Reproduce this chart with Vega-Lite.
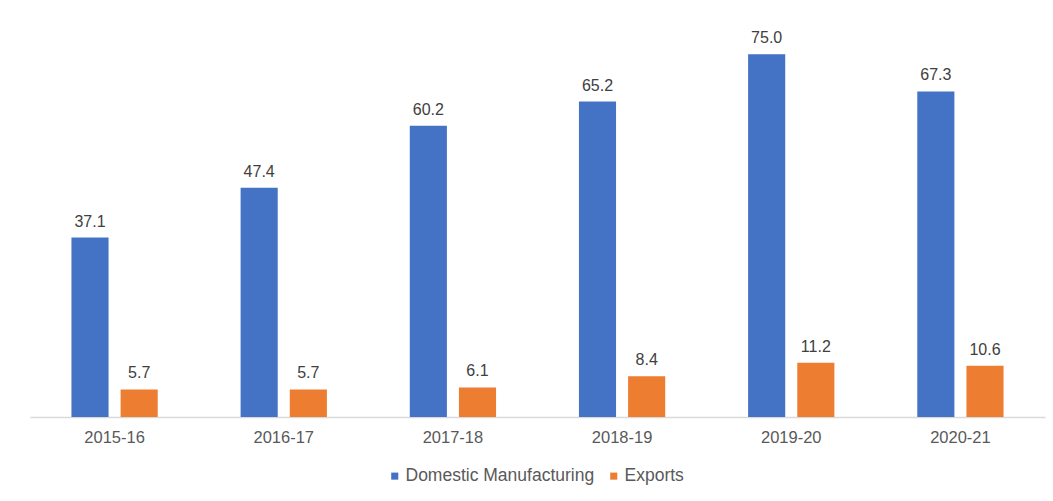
{
  "$schema": "https://vega.github.io/schema/vega-lite/v6.json",
  "width": 1015,
  "height": 387,
  "padding": {"left": 30, "top": 30, "right": 8, "bottom": 84},
  "autosize": {"type": "none"},
  "background": "white",
  "config": {
    "view": {"stroke": null},
    "font": "Liberation Sans",
    "text": {"font": "Liberation Sans"}
  },
  "data": {
    "values": [
      {"year": "2015-16", "series": "Domestic Manufacturing", "value": 37.1},
      {"year": "2015-16", "series": "Exports", "value": 5.7},
      {"year": "2016-17", "series": "Domestic Manufacturing", "value": 47.4},
      {"year": "2016-17", "series": "Exports", "value": 5.7},
      {"year": "2017-18", "series": "Domestic Manufacturing", "value": 60.2},
      {"year": "2017-18", "series": "Exports", "value": 6.1},
      {"year": "2018-19", "series": "Domestic Manufacturing", "value": 65.2},
      {"year": "2018-19", "series": "Exports", "value": 8.4},
      {"year": "2019-20", "series": "Domestic Manufacturing", "value": 75.0},
      {"year": "2019-20", "series": "Exports", "value": 11.2},
      {"year": "2020-21", "series": "Domestic Manufacturing", "value": 67.3},
      {"year": "2020-21", "series": "Exports", "value": 10.6}
    ]
  },
  "encoding": {
    "x": {
      "field": "year", "type": "nominal", "title": null,
      "scale": {"paddingInner": 0.49, "paddingOuter": 0.245},
      "axis": {
        "labelAngle": 0, "labelFontSize": 16.5, "labelColor": "#595959",
        "domainColor": "#d9d9d9", "domainWidth": 1.5, "ticks": false, "labelPadding": 12
      }
    },
    "xOffset": {"field": "series", "type": "nominal", "scale": {"paddingInner": 0.245, "paddingOuter": 0}},
    "y": {
      "field": "value", "type": "quantitative", "scale": {"domain": [0, 80], "nice": false},
      "axis": null
    }
  },
  "layer": [
    {
      "mark": {"type": "bar"},
      "encoding": {
        "color": {
          "field": "series", "type": "nominal", "title": null,
          "scale": {"domain": ["Domestic Manufacturing", "Exports"], "range": ["#4472C4", "#ED7D31"]},
          "legend": {
            "orient": "none", "direction": "horizontal", "legendX": 356, "legendY": 437,
            "symbolType": "square", "symbolSize": 50, "labelFontSize": 17.5, "labelColor": "#595959",
            "columnSpacing": 28, "labelOffset": 2, "labelLimit": 400
          }
        }
      }
    },
    {
      "mark": {"type": "text", "baseline": "bottom", "dy": -8, "fontSize": 16, "color": "#404040"},
      "encoding": {
        "text": {"field": "value", "type": "quantitative", "format": ".1f"}
      }
    }
  ]
}
